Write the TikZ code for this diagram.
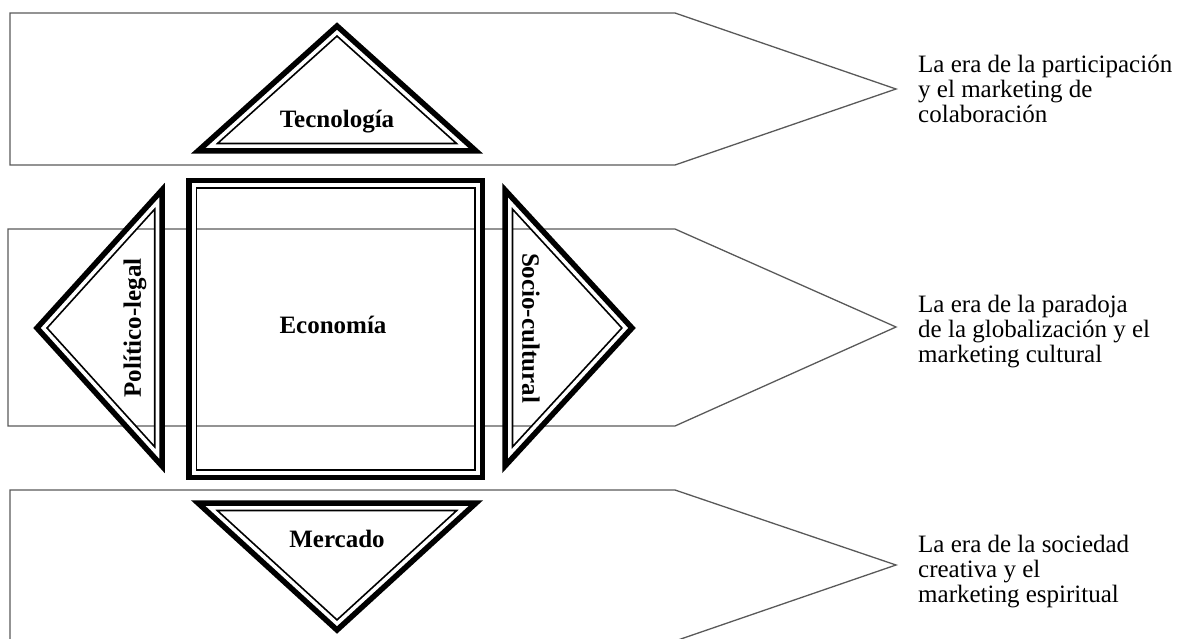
\documentclass[tikz,border=0pt]{standalone}
\usepackage{fontspec}
\setmainfont{Liberation Serif}
\tikzset{
    era/.style={draw=gray!70!black, line width=1.3pt, line join=miter},
    frameline/.style={line width=5.5pt, line join=miter},
    shapelabel/.style={font=\bfseries\fontsize{25}{25}\selectfont, inner sep=0pt},
    eratext/.style={font=\fontsize{25}{25}\selectfont, align=left, inner sep=0pt, anchor=north west},
    common settings/.style={x=1pt, y=-1pt}
}
% thick outer line plus a thin line just inside it
\newcommand{\doubleframe}[1]{%
    \begin{scope}
        \clip #1;
        \draw[line width=16.5pt, line join=miter] #1;
        \draw[white, line width=13pt, line join=miter] #1;
    \end{scope}
    \draw[frameline] #1;
}

\begin{document}
\begin{tikzpicture}[common settings]

    \useasboundingbox (0,0) rectangle (1186,639);
    \clip (0,0) rectangle (1186,639);

    \def\sx{675}   % shoulder of the eras
    \def\tx{896}   % tip of the eras

    % Eras (background arrows)
    \path[era] (10,13) -- (\sx,13) -- (\tx,89) -- (\sx,165) -- (10,165) -- cycle;
    \path[era] (8,229) -- (\sx,229) -- (\tx,327) -- (\sx,426) -- (8,426) -- cycle;
    \path[era] (10,490) -- (\sx,490) -- (\tx,565) -- (\sx,641) -- (10,641) -- cycle;

    % Framed shapes
    \doubleframe{(198,151) -- (476,151) -- (337,26) -- cycle}        % Top
    \doubleframe{(189,180.5) -- (482.5,180.5) -- (482.5,477.5) -- (189,477.5) -- cycle} % Centre
    \doubleframe{(162,190) -- (162,466) -- (37,328) -- cycle}        % Left
    \doubleframe{(505,190) -- (505,466) -- (632,328) -- cycle}       % Right
    \doubleframe{(198,503) -- (476,503) -- (337,630) -- cycle}       % Bottom

    % Shape labels
    \node[shapelabel, anchor=base] (tecnologia) at (337,128) {Tecnología};
    \node[shapelabel, anchor=base] (economia) at (333,333) {Economía};
    \node[shapelabel, anchor=base] (mercado) at (337,547) {Mercado};
    \node[shapelabel, rotate=90] (politico) at (135,328) {Político-legal};
    \node[shapelabel, rotate=-90] (socio) at (531,328) {Socio-cultural};

    % Era texts
    \node[eratext] (era1) at (918,55) {La era de la participación\\y el marketing de\\colaboración};
    \node[eratext] (era2) at (918,295) {La era de la paradoja\\de la globalización y el\\marketing cultural};
    \node[eratext] (era3) at (918,535) {La era de la sociedad\\creativa y el\\marketing espiritual};

\end{tikzpicture}
\end{document}
